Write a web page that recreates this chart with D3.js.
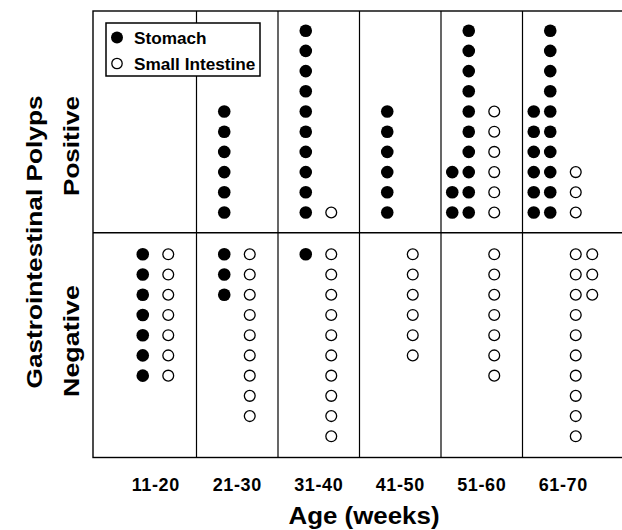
<!DOCTYPE html>
<html>
<head>
<meta charset="utf-8">
<script src="https://cdn.jsdelivr.net/npm/d3@7"></script>
<style>
  body { margin: 0; background: #fff; }
  text { font-family: "Liberation Sans", Arial, sans-serif; font-weight: bold; fill: #000; }
</style>
</head>
<body>
<script>
// age groups along x
var ageGroups = ["11-20", "21-30", "31-40", "41-50", "51-60", "61-70"];
// number of mice per group (one dot each)
var posStomach = [0, 6, 10, 6, 13, 16];
var posSmall   = [0, 0, 1, 0, 6, 3];
var negStomach = [7, 3, 1, 0, 0, 0];
var negSmall   = [7, 9, 10, 6, 7, 13];
var rowLabels = ["Positive", "Negative"];

function drawChart() {
	var width = 622, height = 530;
	var svg = d3.select("body").append("svg").attr("width", width).attr("height", height);

	var left = 93, right = 623, top = 11, mid = 232.7, bottom = 457.5;
	var perColumn = 10;

	var x = d3.scaleBand().domain(ageGroups).range([115, 604]);
	var yPos = d3.scaleLinear().domain([0, perColumn - 1]).range([212.5, 30.7]);
	var yNeg = d3.scaleLinear().domain([0, perColumn - 1]).range([254.3, 436.3]);

	// frame
	svg.append("rect").attr("x", left).attr("y", top)
		.attr("width", right - left).attr("height", bottom - top)
		.attr("fill", "none").attr("stroke", "#000").attr("stroke-width", 1.4);

	svg.append("line").attr("x1", left).attr("x2", right).attr("y1", mid).attr("y2", mid)
		.attr("stroke", "#000").attr("stroke-width", 1.4);

	svg.selectAll(".divider").data(ageGroups.slice(1)).enter().append("line")
		.attr("class", "divider")
		.attr("x1", function(d) { return x(d); }).attr("x2", function(d) { return x(d); })
		.attr("y1", top).attr("y2", bottom)
		.attr("stroke", "#000").attr("stroke-width", 1.2);

	// build dots
	var dots = [];
	function addDots(counts, kind, yScale) {
		counts.forEach(function(n, i) {
			for (var k = 0; k < n; k++) {
				var col = Math.floor(k / perColumn), row = k % perColumn;
				var dx = kind == "stomach" ? -13 - 16.5 * col : 12.5 + 16.5 * col;
				dots.push({ group: ageGroups[i], kind: kind, dx: dx, cy: yScale(row) });
			}
		});
	}
	addDots(posStomach, "stomach", yPos);
	addDots(posSmall, "small", yPos);
	addDots(negStomach, "stomach", yNeg);
	addDots(negSmall, "small", yNeg);

	svg.selectAll(".dot").data(dots).enter().append("circle")
		.attr("class", "dot")
		.attr("cx", function(d) { return x(d.group) + x.bandwidth() / 2 + d.dx; })
		.attr("cy", function(d) { return d.cy; })
		.attr("r", function(d) { return d.kind == "stomach" ? 6.3 : 5.4; })
		.attr("fill", function(d) { return d.kind == "stomach" ? "#000" : "#fff"; })
		.attr("stroke", "#000")
		.attr("stroke-width", function(d) { return d.kind == "stomach" ? 0 : 1.3; });

	// x tick labels
	svg.selectAll(".tick").data(ageGroups).enter().append("text")
		.attr("class", "tick")
		.attr("x", function(d) { return x(d) + x.bandwidth() / 2; })
		.attr("y", 491)
		.attr("text-anchor", "middle")
		.attr("font-size", 18)
		.attr("letter-spacing", 0.6)
		.text(function(d) { return d; });

	svg.append("text").attr("x", 364).attr("y", 524).attr("text-anchor", "middle")
		.attr("font-size", 23).attr("textLength", 151).attr("lengthAdjust", "spacingAndGlyphs")
		.text("Age (weeks)");

	// y labels
	svg.append("text").attr("transform", "translate(42," + 242 + ") rotate(-90)")
		.attr("text-anchor", "middle").attr("font-size", 22)
		.attr("textLength", 293).attr("lengthAdjust", "spacingAndGlyphs")
		.text("Gastrointestinal Polyps");
	svg.append("text").attr("transform", "translate(79," + 146 + ") rotate(-90)")
		.attr("text-anchor", "middle").attr("font-size", 22)
		.attr("textLength", 100).attr("lengthAdjust", "spacingAndGlyphs")
		.text(rowLabels[0]);
	svg.append("text").attr("transform", "translate(79," + 341 + ") rotate(-90)")
		.attr("text-anchor", "middle").attr("font-size", 22)
		.attr("textLength", 112).attr("lengthAdjust", "spacingAndGlyphs")
		.text(rowLabels[1]);

	// legend
	var legend = svg.append("g");
	legend.append("rect").attr("x", 106).attr("y", 23).attr("width", 154).attr("height", 53)
		.attr("fill", "#fff").attr("stroke", "#000").attr("stroke-width", 1.5);
	legend.append("circle").attr("cx", 117).attr("cy", 37.5).attr("r", 6).attr("fill", "#000");
	legend.append("circle").attr("cx", 117).attr("cy", 63.5).attr("r", 5.2)
		.attr("fill", "#fff").attr("stroke", "#000").attr("stroke-width", 1.3);
	legend.append("text").attr("x", 134).attr("y", 43.5).attr("font-size", 17.2).text("Stomach");
	legend.append("text").attr("x", 134).attr("y", 69.5).attr("font-size", 17.2).text("Small Intestine");
}

drawChart();
</script>
</body>
</html>
